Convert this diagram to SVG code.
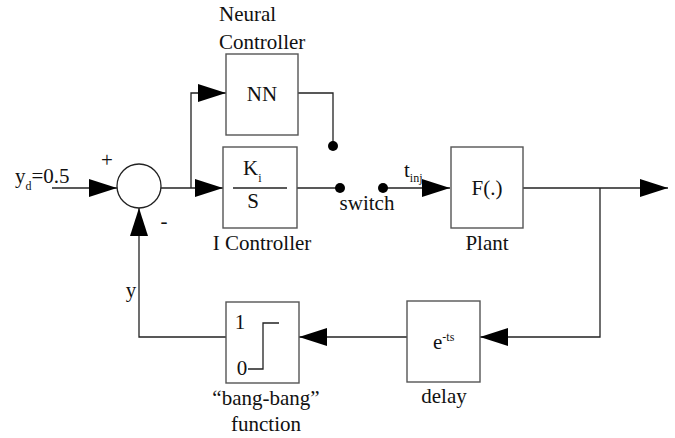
<svg xmlns="http://www.w3.org/2000/svg" width="675" height="438" viewBox="0 0 675 438" font-family="'Liberation Serif', 'Times New Roman', 'DejaVu Serif', serif">
<style>
  text { font-family: 'Liberation Serif', 'Times New Roman', 'DejaVu Serif', serif; font-size: 21px; fill: #111; }
  .sub { font-size: 12px; }
  .box { fill: #fff; stroke: #555; stroke-width: 1.4; }
  .ln { fill: none; stroke: #222; stroke-width: 1.3; }
  .dot { fill: #000; }
</style>
<defs>
  <marker id="arr" markerUnits="userSpaceOnUse" markerWidth="28" markerHeight="18" refX="28" refY="9" orient="auto">
    <path d="M0,0 L28,9 L0,18 z" fill="#000"/>
  </marker>
</defs>
<rect width="675" height="438" fill="#fff"/>

<g id="connectors">
  <path class="ln" d="M52,188 L117,188" marker-end="url(#arr)"/>
  <path class="ln" d="M161,188 L223,188" marker-end="url(#arr)"/>
  <path class="ln" d="M191,188 L191,93 L226,93" marker-end="url(#arr)"/>
  <path class="ln" d="M298,93 L333,93 L333,146"/>
  <path class="ln" d="M297,188 L340,188"/>
  <path class="ln" d="M383,188 L450,188" marker-end="url(#arr)"/>
  <path class="ln" d="M523,188 L668,188" marker-end="url(#arr)"/>
  <path class="ln" d="M600,188 L600,337 L480,337" marker-end="url(#arr)"/>
  <path class="ln" d="M407,337 L299,337" marker-end="url(#arr)"/>
  <path class="ln" d="M226,337 L139,337 L139,208" marker-end="url(#arr)"/>
</g>

<g id="sum">
  <circle cx="139" cy="186" r="22" fill="#fff" stroke="#222" stroke-width="1.3"/>
  <text x="107" y="167" text-anchor="middle">+</text>
  <text x="164" y="228" text-anchor="middle">-</text>
</g>

<g id="input">
  <text x="15" y="183">y<tspan class="sub" dy="7">d</tspan><tspan dy="-7">=0.5</tspan></text>
</g>

<g id="nn">
  <rect class="box" x="226" y="54" width="72" height="81"/>
  <text x="262" y="101" text-anchor="middle">NN</text>
  <text x="219" y="21">Neural</text>
  <text x="219" y="49">Controller</text>
</g>

<g id="icontroller">
  <rect class="box" x="223" y="147" width="74" height="81"/>
  <text x="243" y="175">K<tspan class="sub" dy="7">i</tspan></text>
  <line class="ln" x1="233" y1="188" x2="287" y2="188" stroke="#555"/>
  <text x="253" y="208" text-anchor="middle">S</text>
  <text x="262" y="250" text-anchor="middle">I Controller</text>
</g>

<g id="switch">
  <circle class="dot" cx="333" cy="146" r="5"/>
  <circle class="dot" cx="340" cy="188" r="5"/>
  <circle class="dot" cx="383" cy="188" r="5"/>
  <text x="367" y="210" text-anchor="middle">switch</text>
  <text x="404" y="177">t<tspan class="sub" dy="5">inj</tspan></text>
</g>

<g id="plant">
  <rect class="box" x="451" y="147" width="72" height="81"/>
  <text x="487" y="195" text-anchor="middle">F(.)</text>
  <text x="487" y="250" text-anchor="middle">Plant</text>
</g>

<g id="delay">
  <rect class="box" x="407" y="301" width="73" height="81"/>
  <text x="433" y="349">e<tspan class="sub" dy="-8">-ts</tspan></text>
  <text x="444" y="403" text-anchor="middle">delay</text>
</g>

<g id="bangbang">
  <rect class="box" x="226" y="302" width="73" height="81"/>
  <text x="240" y="329" text-anchor="middle">1</text>
  <text x="242" y="375" text-anchor="middle">0</text>
  <path class="ln" d="M248,369 L263,369 L263,323 L279,323"/>
  <text x="266" y="405" text-anchor="middle">“bang-bang”</text>
  <text x="266" y="431" text-anchor="middle">function</text>
  <text x="131" y="297" text-anchor="middle">y</text>
</g>
</svg>
